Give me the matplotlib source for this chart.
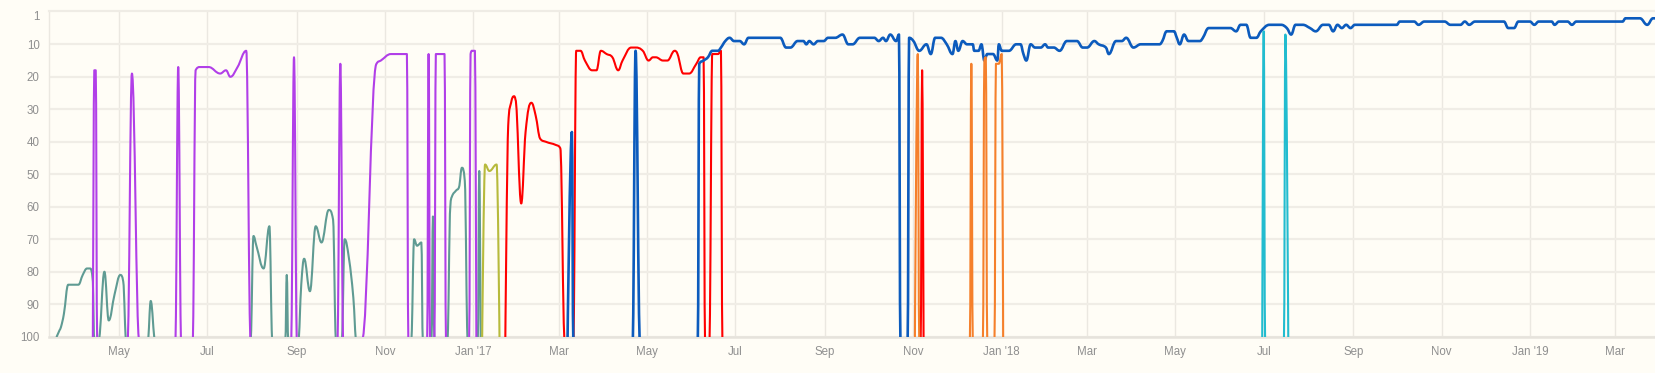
import numpy as np
import pandas as pd
import matplotlib
matplotlib.use("Agg")
from matplotlib import pyplot as plt
import matplotlib.dates as mdates
from matplotlib.path import Path
from matplotlib.patches import PathPatch
from matplotlib.ticker import FuncFormatter

# rank history per series; 101 = not ranked (falls off the bottom of the chart)
teal_dates = ["2016-03-19", "2016-03-21", "2016-03-22", "2016-03-24", "2016-03-27", "2016-04-03", "2016-04-06",
              "2016-04-09", "2016-04-11", "2016-04-13", "2016-04-14",
              "2016-04-17", "2016-04-21", "2016-04-24", "2016-04-28", "2016-05-02", "2016-05-04", "2016-05-06",
              "2016-05-21", "2016-05-23", "2016-05-26",
              "2016-07-31", "2016-08-02", "2016-08-04", "2016-08-09", "2016-08-13", "2016-08-15",
              "2016-08-24", "2016-08-25", "2016-08-26",
              "2016-09-02", "2016-09-04", "2016-09-06", "2016-09-10", "2016-09-14", "2016-09-18", "2016-09-23",
              "2016-09-26", "2016-09-28",
              "2016-10-02", "2016-10-04", "2016-10-07", "2016-10-10", "2016-10-12",
              "2016-11-19", "2016-11-21", "2016-11-23", "2016-11-26", "2016-11-27",
              "2016-12-03", "2016-12-04", "2016-12-05",
              "2016-12-14", "2016-12-16", "2016-12-17", "2016-12-20", "2016-12-22", "2016-12-24", "2016-12-26",
              "2016-12-28",
              "2017-01-04", "2017-01-05", "2017-01-06"]
teal_rank = [100, 98, 97, 93, 84, 84, 81, 79, 79, 83, 101,
             101, 80, 95, 87, 81, 83, 101,
             101, 89, 101,
             101, 69, 72, 79, 66, 101,
             101, 81, 101,
             101, 84, 76, 86, 66, 71, 61, 64, 101,
             101, 70, 76, 88, 101,
             101, 70, 72, 71, 101,
             101, 63, 101,
             101, 60, 57, 55, 54, 48, 52, 101,
             101, 49, 101]

purple_dates = ["2016-04-13", "2016-04-14", "2016-04-15", "2016-04-16",
                "2016-05-07", "2016-05-10", "2016-05-15",
                "2016-06-09", "2016-06-11", "2016-06-13",
                "2016-06-21", "2016-06-23", "2016-06-26", "2016-07-02", "2016-07-10", "2016-07-14", "2016-07-17",
                "2016-07-22", "2016-07-28", "2016-07-31",
                "2016-08-28", "2016-08-30", "2016-09-01",
                "2016-09-29", "2016-10-01", "2016-10-03",
                "2016-10-16", "2016-10-26", "2016-10-29", "2016-11-05", "2016-11-09", "2016-11-16", "2016-11-17",
                "2016-11-30", "2016-12-01", "2016-12-02",
                "2016-12-05", "2016-12-06", "2016-12-12", "2016-12-13",
                "2016-12-29", "2016-12-30", "2016-12-31", "2017-01-02", "2017-01-03"]
purple_rank = [101, 18, 18, 101,
               101, 19, 101,
               101, 17, 101,
               101, 18, 17, 17, 19, 18, 20, 17, 12, 101,
               101, 14, 101,
               101, 16, 101,
               101, 16, 15, 13, 13, 13, 101,
               101, 13, 101,
               101, 13, 13, 101,
               101, 13, 12, 12, 101]

olive_dates = ["2017-01-07", "2017-01-09", "2017-01-12", "2017-01-17", "2017-01-19"]
olive_rank = [101, 47, 49, 47, 101]

red_dates = ["2017-01-23", "2017-01-25", "2017-01-27", "2017-01-29", "2017-01-30", "2017-02-03", "2017-02-06",
             "2017-02-10", "2017-02-13", "2017-02-16", "2017-02-20", "2017-02-27", "2017-03-02", "2017-03-05",
             "2017-03-11", "2017-03-13", "2017-03-16", "2017-03-19", "2017-03-24", "2017-03-27", "2017-03-30",
             "2017-04-03", "2017-04-07", "2017-04-11", "2017-04-14", "2017-04-20", "2017-04-23", "2017-04-28",
             "2017-05-02", "2017-05-05", "2017-05-07", "2017-05-12", "2017-05-15", "2017-05-20", "2017-05-22",
             "2017-05-26", "2017-05-30", "2017-06-04", "2017-06-07", "2017-06-09", "2017-06-10",
             "2017-06-13", "2017-06-15", "2017-06-19", "2017-06-21", "2017-06-22",
             "2017-11-06", "2017-11-07", "2017-11-08"]
red_rank = [101, 35, 28, 26, 27, 59, 37, 28, 32, 39, 40, 41, 42, 101,
            101, 12, 12, 15, 18, 18, 12, 13, 14, 18, 15, 11, 11, 12, 15, 14, 14, 15, 15, 12, 13,
            19, 19, 16, 14, 14, 101,
            101, 13, 13, 12, 101,
            101, 18, 101]

blue_dates = ["2017-03-07", "2017-03-10", "2017-03-11",
              "2017-04-21", "2017-04-23", "2017-04-26",
              "2017-06-05", "2017-06-06", "2017-06-09", "2017-06-12", "2017-06-15", "2017-06-19", "2017-06-21",
              "2017-06-24", "2017-06-27", "2017-06-30", "2017-07-04", "2017-07-07", "2017-07-10", "2017-08-01",
              "2017-08-05", "2017-08-08", "2017-08-13", "2017-08-17", "2017-08-19", "2017-08-21", "2017-08-24",
              "2017-08-27", "2017-08-31", "2017-09-03", "2017-09-08", "2017-09-13", "2017-09-17", "2017-09-20",
              "2017-09-25", "2017-10-05", "2017-10-08", "2017-10-11", "2017-10-13", "2017-10-16", "2017-10-20",
              "2017-10-22", "2017-10-23",
              "2017-10-28", "2017-10-29", "2017-11-01", "2017-11-05", "2017-11-10", "2017-11-13", "2017-11-16",
              "2017-11-20", "2017-11-24", "2017-11-28", "2017-11-30", "2017-12-02", "2017-12-05", "2017-12-08",
              "2017-12-12", "2017-12-13", "2017-12-16", "2017-12-18", "2017-12-20", "2017-12-22", "2017-12-26",
              "2017-12-29", "2017-12-30", "2018-01-01", "2018-01-06", "2018-01-11", "2018-01-14", "2018-01-16",
              "2018-01-18", "2018-01-21", "2018-01-24", "2018-01-28", "2018-01-31", "2018-02-02", "2018-02-06",
              "2018-02-10", "2018-02-15", "2018-02-22", "2018-02-26", "2018-03-01", "2018-03-06", "2018-03-09",
              "2018-03-14", "2018-03-16", "2018-03-21", "2018-03-25", "2018-03-28", "2018-04-02", "2018-04-07",
              "2018-04-20", "2018-04-22", "2018-04-25", "2018-04-30", "2018-05-02", "2018-05-04", "2018-05-07",
              "2018-05-10", "2018-05-18", "2018-05-20", "2018-05-24", "2018-06-08", "2018-06-12", "2018-06-15",
              "2018-06-19", "2018-06-22", "2018-06-26", "2018-06-29", "2018-07-05", "2018-07-13", "2018-07-17",
              "2018-07-20", "2018-07-23", "2018-07-28", "2018-08-02", "2018-08-06", "2018-08-11", "2018-08-15",
              "2018-08-18", "2018-08-21", "2018-08-24", "2018-08-27", "2018-08-30", "2018-09-02", "2018-10-01",
              "2018-10-03", "2018-10-13", "2018-10-16", "2018-10-20", "2018-11-03", "2018-11-07", "2018-11-14",
              "2018-11-17", "2018-11-20", "2018-11-24", "2018-12-14", "2018-12-17", "2018-12-21", "2018-12-24",
              "2019-01-01", "2019-01-04", "2019-01-07", "2019-01-16", "2019-01-18", "2019-01-21", "2019-01-27",
              "2019-01-30", "2019-02-02", "2019-03-06", "2019-03-08", "2019-03-18", "2019-03-23", "2019-03-27",
              "2019-03-29"]
blue_rank = [101, 37, 101,
             101, 12, 101,
             101, 16, 15, 14, 12, 12, 11, 9, 8, 9, 9, 10, 8, 8,
             11, 11, 9, 9, 10, 9, 10, 9, 9, 8, 8, 7, 10, 10,
             8, 8, 9, 8, 9, 7, 9, 7, 101,
             101, 8, 9, 12, 10, 13, 8, 8, 10, 13, 9, 12, 9, 10,
             10, 12, 12, 10, 15, 13, 13, 15, 10, 12, 12, 10, 10, 13,
             15, 10, 11, 11, 10, 11, 11, 12, 9, 9, 11, 11, 9, 10,
             11, 13, 9, 9, 8, 11, 10, 10, 9, 6, 6, 8, 10, 7,
             9, 9, 8, 5, 5, 6, 4, 4, 8, 8, 6, 4, 4, 5,
             7, 4, 4, 5, 6, 4, 4, 6, 4, 5, 4, 5, 4, 4,
             3, 3, 4, 3, 3, 4, 4, 3, 4, 3, 3, 5, 5, 3,
             3, 4, 3, 3, 4, 3, 3, 4, 3, 3, 2, 2, 4, 2, 2]

orange_dates = ["2017-11-02", "2017-11-04", "2017-11-05",
                "2017-12-10", "2017-12-11", "2017-12-12",
                "2017-12-19", "2017-12-20", "2017-12-21", "2017-12-22",
                "2017-12-27", "2017-12-28", "2017-12-30", "2018-01-01", "2018-01-02"]
orange_rank = [101, 13, 101, 101, 16, 101, 101, 15, 14, 101, 101, 16, 16, 13, 101]

cyan_dates = ["2018-06-30", "2018-07-01", "2018-07-02", "2018-07-15", "2018-07-16", "2018-07-18"]
cyan_rank = [101, 6, 101, 101, 7, 101]

series = [
    (teal_dates, teal_rank, "#5f9b93", 1.5),
    (purple_dates, purple_rank, "#b13fe8", 1.5),
    (olive_dates, olive_rank, "#b7ba3c", 1.5),
    (red_dates, red_rank, "#ff0000", 1.5),
    (blue_dates, blue_rank, "#0c5bbd", 1.9),
    (orange_dates, orange_rank, "#f5802b", 1.5),
    (cyan_dates, cyan_rank, "#22bccf", 1.5),
]

y_ticks = [1, 10, 20, 30, 40, 50, 60, 70, 80, 90, 100]

bg = "#fffdf6"
label_color = "#8f8f8f"


def spline_path(xs, ys, smoothing=1.5):
    # bezier through the points, same control point rule as a highcharts "spline" series
    n = len(xs)
    denom = smoothing + 1
    left = [(xs[i], ys[i]) for i in range(n)]
    right = [(xs[i], ys[i]) for i in range(n)]
    for i in range(1, n - 1):
        x, y = xs[i], ys[i]
        lx, ly = xs[i - 1], ys[i - 1]
        nx, ny = xs[i + 1], ys[i + 1]
        lcx = (smoothing * x + lx) / denom
        lcy = (smoothing * y + ly) / denom
        rcx = (smoothing * x + nx) / denom
        rcy = (smoothing * y + ny) / denom
        if rcx != lcx:
            corr = (rcy - lcy) * (rcx - x) / (rcx - lcx) + y - rcy
            lcy += corr
            rcy += corr
        if lcy > ly and lcy > y:
            lcy = max(ly, y)
            rcy = 2 * y - lcy
        elif lcy < ly and lcy < y:
            lcy = min(ly, y)
            rcy = 2 * y - lcy
        if rcy > ny and rcy > y:
            rcy = max(ny, y)
            lcy = 2 * y - rcy
        elif rcy < ny and rcy < y:
            rcy = min(ny, y)
            lcy = 2 * y - rcy
        left[i] = (lcx, lcy)
        right[i] = (rcx, rcy)
    verts = [(xs[0], ys[0])]
    codes = [Path.MOVETO]
    for i in range(1, n):
        verts += [right[i - 1], left[i], (xs[i], ys[i])]
        codes += [Path.CURVE4] * 3
    return Path(verts, codes)


fig = plt.figure(figsize=(16.56, 3.73), dpi=100, facecolor=bg)
ax = fig.add_axes([49.3 / 1656, 36.3 / 373, 1 - 49.3 / 1656, 325.7 / 373])
ax.set_facecolor(bg)

for dates, ranks, color, lw in series:
    xs = mdates.date2num(pd.to_datetime(dates))
    path = spline_path(list(xs), list(map(float, ranks)))
    ax.add_patch(PathPatch(path, facecolor="none", edgecolor=color, lw=lw,
                           joinstyle="round", capstyle="round", zorder=3))

ax.xaxis_date()
ax.set_xlim(pd.Timestamp("2016-03-13 22:00"), pd.Timestamp("2019-03-29 02:00"))
ax.set_ylim(100, -0.25)

ax.set_yticks(y_ticks)
ax.set_yticklabels([str(t) for t in y_ticks])
ax.set_xticks(pd.date_range("2016-05-01", "2019-03-01", freq="2MS"))


def month_label(x, pos):
    d = mdates.num2date(x)
    return d.strftime("Jan '%y") if d.month == 1 else d.strftime("%b")


ax.xaxis.set_major_formatter(FuncFormatter(month_label))

ax.tick_params(axis="both", length=0, labelsize=8.3, labelcolor=label_color)
ax.tick_params(axis="y", pad=7)
ax.tick_params(axis="x", pad=6.5)
for lab in ax.get_xticklabels() + ax.get_yticklabels():
    lab.set_fontfamily("Liberation Sans")

ax.grid(axis="y", color="#f0ede6", lw=1.6, zorder=0)
ax.grid(axis="x", color="#ebe8e1", lw=1.0, zorder=0)
ax.get_ygridlines()[0].set_visible(False)
ax.set_axisbelow(True)

ax.spines["right"].set_visible(False)
ax.spines["top"].set_color("#efece5")
ax.spines["top"].set_linewidth(1.6)
ax.spines["left"].set_color("#ebe8e1")
ax.spines["left"].set_linewidth(1.0)
ax.spines["bottom"].set_color("#e6e3dc")
ax.spines["bottom"].set_linewidth(1.8)

fig.savefig("out.png", dpi=100, facecolor=bg)
